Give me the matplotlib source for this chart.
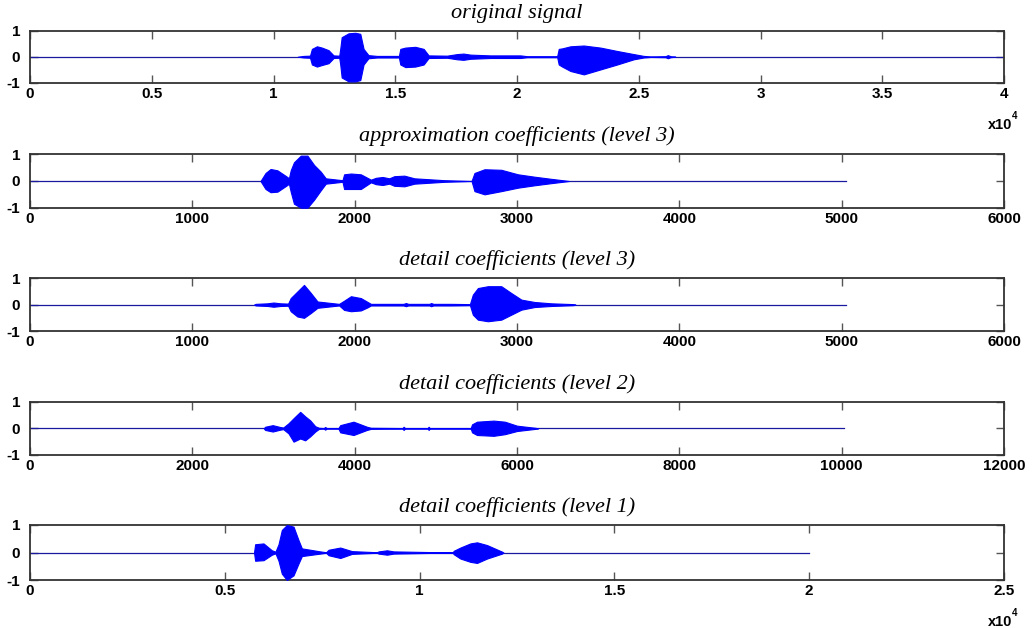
import matplotlib
matplotlib.use("Agg")
import matplotlib.pyplot as plt
from matplotlib.ticker import FuncFormatter, FixedLocator
from matplotlib.font_manager import FontProperties

# ---------------- data (envelope knots) ----------------
titles = ["original signal",
          "approximation coefficients (level 3)",
          "detail coefficients (level 3)",
          "detail coefficients (level 2)",
          "detail coefficients (level 1)"]

signal_length = [40000, 5024, 5024, 10024, 20000]
x_max = [40000, 6000, 6000, 12000, 25000]
x_ticks = [[0, 5000, 10000, 15000, 20000, 25000, 30000, 35000, 40000],
           [0, 1000, 2000, 3000, 4000, 5000, 6000],
           [0, 1000, 2000, 3000, 4000, 5000, 6000],
           [0, 2000, 4000, 6000, 8000, 10000, 12000],
           [0, 5000, 10000, 15000, 20000, 25000]]
x_scale = [1e4, 1, 1, 1, 1e4]

orig_x = [11000, 11234, 11500, 11577, 11783, 11989, 12262, 12467, 12700, 12741, 12800,
          13083, 13358, 13564, 13699, 13900, 14250, 15150, 15208, 15413, 15824, 16166,
          16370, 17127, 17537, 17800, 18085, 18631, 18906, 20140, 20415, 21650, 21714,
          21853, 22195, 22742, 23428, 24114, 24796, 25206, 25500, 26099, 26194, 26305, 26500]
orig_up = [0, 0.03, 0.04, 0.3, 0.4, 0.35, 0.25, 0.05, 0.04, 0.3, 0.75, 0.9, 0.92, 0.88,
           0.3, 0.06, 0.03, 0.03, 0.3, 0.35, 0.38, 0.3, 0.05, 0.04, 0.1, 0.12, 0.08, 0.06,
           0.05, 0.05, 0.02, 0.02, 0.3, 0.32, 0.4, 0.43, 0.35, 0.22, 0.1, 0.03, 0.01,
           0.02, 0.06, 0.02, 0]
orig_lo = [0, -0.03, -0.04, -0.3, -0.38, -0.32, -0.25, -0.05, -0.04, -0.3, -0.8, -0.95,
           -0.95, -0.9, -0.3, -0.06, -0.03, -0.03, -0.3, -0.4, -0.38, -0.3, -0.05, -0.04,
           -0.1, -0.12, -0.08, -0.06, -0.05, -0.05, -0.02, -0.02, -0.3, -0.38, -0.55,
           -0.68, -0.49, -0.3, -0.1, -0.03, -0.01, -0.02, -0.06, -0.02, 0]

a3_x = [1420, 1451, 1482, 1524, 1585, 1595, 1606, 1626, 1668, 1709, 1750, 1791, 1822,
        1925, 1935, 1977, 2038, 2100, 2131, 2172, 2213, 2244, 2306, 2368, 2553, 2720,
        2738, 2800, 2903, 3006, 3109, 3212, 3294, 3320]
a3_up = [0, 0.3, 0.45, 0.4, 0.15, 0.1, 0.4, 0.7, 0.95, 0.95, 0.6, 0.35, 0.1, 0.03, 0.25,
         0.28, 0.25, 0.05, 0.12, 0.15, 0.1, 0.18, 0.2, 0.1, 0.03, 0, 0.3, 0.44, 0.42,
         0.25, 0.16, 0.08, 0.02, 0]
a3_lo = [0, -0.3, -0.42, -0.4, -0.15, -0.1, -0.4, -0.85, -1.0, -1.0, -0.7, -0.35, -0.1,
         -0.03, -0.3, -0.3, -0.3, -0.05, -0.12, -0.15, -0.1, -0.18, -0.2, -0.1, -0.03, 0,
         -0.38, -0.5, -0.38, -0.25, -0.16, -0.08, -0.02, 0]

d3_x = [1380, 1390, 1462, 1500, 1544, 1590, 1606, 1647, 1688, 1729, 1771, 1904, 1935,
        1977, 2038, 2080, 2100, 2300, 2316, 2330, 2460, 2471, 2485, 2594, 2710, 2728,
        2759, 2821, 2903, 2965, 3027, 3109, 3212, 3346, 3360]
d3_up = [0, 0.03, 0.05, 0.08, 0.05, 0.04, 0.25, 0.5, 0.75, 0.45, 0.12, 0.03, 0.15, 0.32,
         0.25, 0.1, 0.03, 0.03, 0.06, 0.03, 0.03, 0.06, 0.03, 0.03, 0.02, 0.38, 0.63,
         0.7, 0.7, 0.44, 0.19, 0.1, 0.05, 0.02, 0]
d3_lo = [0, -0.03, -0.05, -0.08, -0.05, -0.04, -0.25, -0.45, -0.5, -0.32, -0.12, -0.03,
         -0.2, -0.25, -0.22, -0.1, -0.03, -0.03, -0.06, -0.03, -0.03, -0.06, -0.03, -0.03,
         -0.02, -0.38, -0.57, -0.63, -0.57, -0.38, -0.19, -0.09, -0.05, -0.02, 0]

d2_x = [2880, 2897, 2990, 3082, 3120, 3185, 3247, 3329, 3390, 3452, 3514, 3560, 3620,
        3637, 3655, 3800, 3822, 3986, 4151, 4200, 4590, 4603, 4620, 4900, 4911, 4925,
        5430, 5446, 5507, 5713, 5850, 6000, 6226, 6260]
d2_up = [0, 0.06, 0.12, 0.05, 0.03, 0.19, 0.38, 0.62, 0.45, 0.3, 0.08, 0.02, 0.01, 0.05,
         0.01, 0.01, 0.12, 0.25, 0.06, 0.02, 0.01, 0.06, 0.01, 0.01, 0.06, 0.01, 0.01,
         0.15, 0.25, 0.29, 0.25, 0.1, 0.02, 0]
d2_lo = [0, -0.06, -0.12, -0.05, -0.03, -0.19, -0.5, -0.38, -0.45, -0.3, -0.12, -0.02,
         -0.01, -0.05, -0.01, -0.01, -0.15, -0.25, -0.06, -0.02, -0.01, -0.06, -0.01,
         -0.01, -0.06, -0.01, -0.01, -0.15, -0.25, -0.28, -0.22, -0.1, -0.02, 0]

d1_x = [5750, 5779, 5994, 6208, 6300, 6379, 6464, 6593, 6764, 6892, 6978, 7449, 7600,
        7664, 7964, 8264, 8900, 8948, 9163, 9333, 10850, 10874, 11046, 11303, 11474,
        11731, 11988, 12117, 12150]
d1_up = [0, 0.3, 0.33, 0.08, 0.03, 0.3, 0.82, 1.0, 0.94, 0.45, 0.15, 0.04, 0.01, 0.1,
         0.18, 0.05, 0.01, 0.04, 0.08, 0.04, 0, 0.06, 0.18, 0.33, 0.37, 0.27, 0.11, 0.03, 0]
d1_lo = [0, -0.3, -0.28, -0.08, -0.03, -0.3, -0.77, -1.0, -0.83, -0.4, -0.13, -0.04,
         -0.01, -0.1, -0.2, -0.05, -0.01, -0.04, -0.08, -0.04, 0, -0.06, -0.22, -0.34,
         -0.38, -0.22, -0.1, -0.04, 0]

env_x = [orig_x, a3_x, d3_x, d2_x, d1_x]
env_up = [orig_up, a3_up, d3_up, d2_up, d1_up]
env_lo = [orig_lo, a3_lo, d3_lo, d2_lo, d1_lo]
y_ticks = [-1, 0, 1]

# ---------------- layout ----------------
W, H = 1033, 628
fig = plt.figure(figsize=(W / 100, H / 100), dpi=100)
fig.patch.set_facecolor("white")

ax_left, ax_right = 30, 1004
panels_px = [(30.7, 82.7), (154.3, 207.7), (278.3, 331.0), (401.7, 455.0), (525.0, 580.0)]

tick_fp = FontProperties(family=["Liberation Sans", "DejaVu Sans"], weight="bold", size=11)
title_font = dict(family=["Liberation Serif", "DejaVu Serif"], style="italic", size=16)

for i in range(5):
    top, bot = panels_px[i]
    hpx = bot - top
    ax = fig.add_axes([ax_left / W, 1 - bot / H, (ax_right - ax_left) / W, hpx / H])
    ax.plot([0, signal_length[i]], [0, 0], color="#1a1aa0", lw=0.9, zorder=2)
    ax.fill_between(env_x[i], env_lo[i], env_up[i], color="#0000ff", lw=0.8,
                    edgecolor="#0000ff", zorder=3)
    ax.set_xlim(0, x_max[i])
    ax.set_ylim(-1, 1)
    ax.xaxis.set_major_locator(FixedLocator(x_ticks[i]))
    ax.yaxis.set_major_locator(FixedLocator(y_ticks))
    sc = x_scale[i]
    ax.xaxis.set_major_formatter(FuncFormatter(lambda v, p, sc=sc: f"{v / sc:g}"))
    ax.yaxis.set_major_formatter(FuncFormatter(lambda v, p: f"{v:g}"))
    ax.tick_params(direction="in", length=6, width=1, color="#555555",
                   top=True, right=True, pad=3, labelcolor="black")
    ax.tick_params(axis="y", pad=7)
    for lab in ax.get_xticklabels() + ax.get_yticklabels():
        lab.set_fontproperties(tick_fp)
    for s in ax.spines.values():
        s.set_color("#333333")
        s.set_linewidth(1.3)
    ax.text(0.5, 1 + 8.0 / hpx, titles[i], transform=ax.transAxes, ha="center",
            va="bottom", fontdict=title_font, color="black")
    if sc != 1:
        fig.text(1000 / W, 1 - (bot + 42) / H, "x10", ha="center", va="center",
                 fontproperties=FontProperties(family=["Liberation Sans", "DejaVu Sans"],
                                               weight="bold", size=10.5))
        fig.text(1015 / W, 1 - (bot + 33) / H, "4", ha="center", va="center",
                 fontproperties=FontProperties(family=["Liberation Sans", "DejaVu Sans"],
                                               weight="bold", size=7))

fig.savefig("out.png", dpi=100, facecolor="white")
